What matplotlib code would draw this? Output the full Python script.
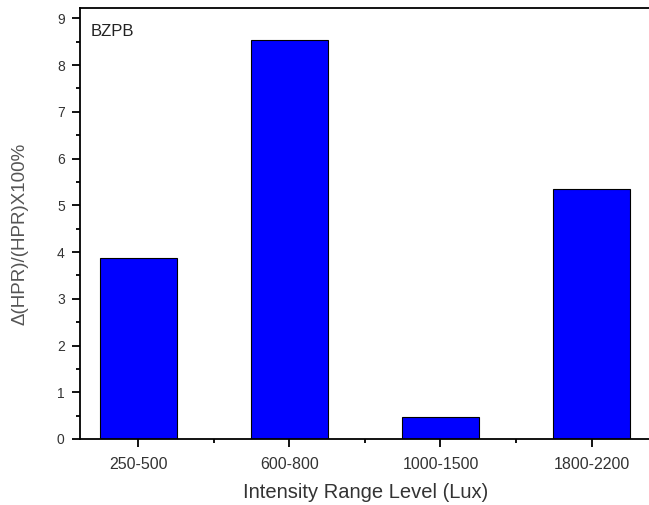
import numpy as np
import matplotlib.pyplot as plt
from matplotlib.ticker import MultipleLocator, FixedLocator

plt.rcParams['font.family'] = ['Liberation Sans', 'DejaVu Sans']

categories = ['250-500', '600-800', '1000-1500', '1800-2200']
values = [3.88, 8.53, 0.48, 5.34]

fig = plt.figure(figsize=(6.49, 5.05), dpi=100)
ax = fig.add_axes([0.1233, 0.1307, 0.879, 0.8535])

x = np.arange(len(categories))
ax.bar(x, values, width=0.51, color='#0000ff', edgecolor='black', linewidth=0.8)

ax.set_xlim(-0.385, 3.39)
ax.set_ylim(0, 9.22)
ax.set_xticks(x)
ax.set_xticklabels(categories)
ax.xaxis.set_minor_locator(FixedLocator(x[:-1] + 0.5))
ax.yaxis.set_major_locator(MultipleLocator(1))
ax.yaxis.set_minor_locator(MultipleLocator(0.5))

ax.tick_params(axis='both', which='major', direction='out', length=6, width=1.3,
               colors='black', labelcolor='#333333')
ax.tick_params(axis='both', which='minor', direction='out', length=3, width=1.3)
ax.tick_params(axis='x', labelsize=11.5, pad=7)
ax.tick_params(axis='y', labelsize=10, pad=5)
for s in ax.spines.values():
    s.set_linewidth(1.3)

ax.set_xlabel('Intensity Range Level (Lux)', fontsize=14.5, color='#333333', labelpad=8)
ax.set_ylabel('\u0394(HPR)/(HPR)X100%', fontsize=13.5, color='#555555')
ax.yaxis.set_label_coords(-0.09, 0.475)
ax.text(0.019, 0.962, 'BZPB', transform=ax.transAxes, fontsize=12, color='#222222',
        va='top', ha='left')

fig.savefig('out.png', dpi=100)
